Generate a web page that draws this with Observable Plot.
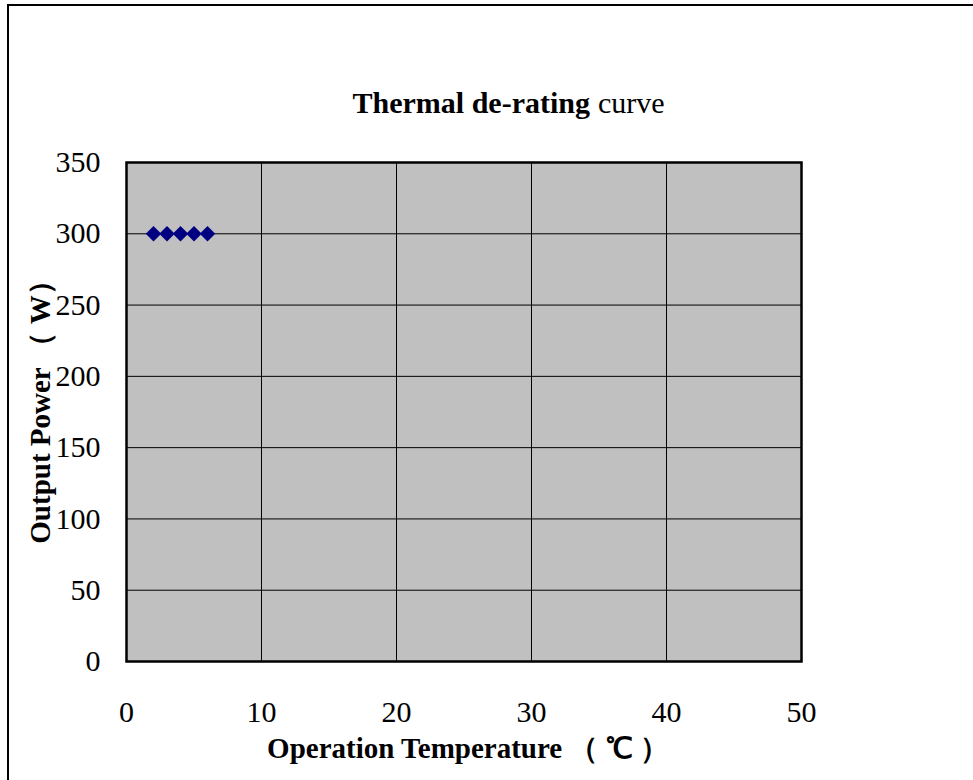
<!DOCTYPE html>
<html>
<head>
<meta charset="utf-8">
<script src="https://cdn.jsdelivr.net/npm/d3@7"></script>
<script src="https://cdn.jsdelivr.net/npm/@observablehq/plot@0.6"></script>
<style>
  html, body { margin: 0; padding: 0; background: #fff; overflow: hidden; }
  #wrap { position: relative; width: 973px; height: 780px; }
  #border { position: absolute; left: 7px; top: 4px; width: 1000px; height: 800px;
            border-left: 2px solid #000; border-top: 2px solid #000; box-sizing: border-box; }
  #chart { position: absolute; left: 0; top: 0; }
</style>
</head>
<body>
<div id="wrap"><div id="border"></div><div id="chart"></div></div>
<script>
const temperatures = [2, 3, 4, 5, 6];
const power = [300, 300, 300, 300, 300];
const xTicks = [0, 10, 20, 30, 40, 50];
const yTicks = [0, 50, 100, 150, 200, 250, 300, 350];
const titleBold = "Thermal de-rating";
const titleRegular = "curve";
const xLabel = "Operation Temperature （ ℃ ）";
const yLabel = "Output Power （ W）";

const data = temperatures.map((t, i) => ({t, p: power[i]}));
const serif = "'Liberation Serif', 'Times New Roman', serif";

const chart = Plot.plot({
  width: 973,
  height: 780,
  marginLeft: 126,
  marginRight: 172,
  marginTop: 162,
  marginBottom: 119,
  style: {fontFamily: serif, fontSize: "30px", background: "transparent", color: "#000"},
  x: {domain: [0, 50], ticks: xTicks, label: null},
  y: {domain: [0, 350], ticks: yTicks, label: null},
  marks: [
    Plot.frame({fill: "#c0c0c0"}),
    Plot.gridX(xTicks, {stroke: "#000", strokeOpacity: 1, strokeWidth: 1}),
    Plot.gridY(yTicks, {stroke: "#000", strokeOpacity: 1, strokeWidth: 1}),
    Plot.frame({stroke: "#000", strokeWidth: 2.5}),
    Plot.axisX({ticks: xTicks, tickSize: 0, tickPadding: 39, fontSize: 30, label: null}),
    Plot.axisY({ticks: yTicks, tickSize: 0, tickPadding: 26, fontSize: 30, label: null}),
    Plot.dot(data, {x: "t", y: "p", symbol: "diamond2", r: 7, fill: "#000080", stroke: "none"}),
    Plot.text([titleBold], {frameAnchor: "top", textAnchor: "end", dx: 126, dy: -59, fontSize: 30, fontWeight: "bold", fontFamily: serif, lineAnchor: "middle"}),
    Plot.text([titleRegular], {frameAnchor: "top", textAnchor: "start", dx: 134, dy: -59, fontSize: 30, fontWeight: "normal", fontFamily: serif, lineAnchor: "middle"}),
    Plot.text([xLabel], {frameAnchor: "bottom", textAnchor: "middle", dx: 4, dy: 87, fontSize: 29, fontWeight: "bold", fontFamily: serif, lineAnchor: "middle"}),
    Plot.text([yLabel], {frameAnchor: "left", textAnchor: "middle", dx: -86, dy: -7, rotate: -90, fontSize: 29, fontWeight: "bold", fontFamily: serif, lineAnchor: "middle"})
  ]
});
document.getElementById("chart").appendChild(chart);
</script>
</body>
</html>
